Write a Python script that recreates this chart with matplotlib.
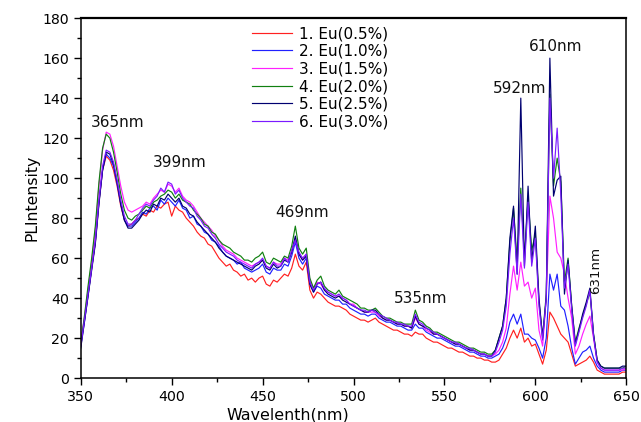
import numpy as np
import matplotlib
matplotlib.use("Agg")
import matplotlib.pyplot as plt
from matplotlib.ticker import MultipleLocator

plt.rcParams['font.family'] = ['DejaVu Sans']

wavelength = np.arange(350, 651, 2)

labels = ["1. Eu(0.5%)", "2. Eu(1.0%)", "3. Eu(1.5%)", "4. Eu(2.0%)", "5. Eu(2.5%)", "6. Eu(3.0%)"]
colors = ["#ff2020", "#2020ff", "#ff20ff", "#108010", "#000070", "#7a1aff"]

eu05 = [17, 29, 42, 55, 68, 88, 104, 111, 109, 104, 96, 86, 79, 76, 77, 79, 80, 82, 81, 84, 83, 86, 85, 87, 88, 81, 86, 84, 83, 80,
        78, 76, 73, 71, 70, 67, 66, 63, 60, 58, 56, 57, 54, 53, 51, 52, 49, 50, 48, 50, 51, 47, 46, 49, 48, 50, 52, 51, 55, 62,
        56, 54, 58, 44, 40, 43, 42, 40, 38, 37, 36, 36, 35, 34, 32, 31, 30, 29, 29, 28, 29, 30, 28, 27, 26, 25, 24, 24, 23, 22,
        22, 21, 23, 22, 22, 20, 19, 18, 18, 17, 16, 15, 15, 14, 13, 13, 12, 11, 11, 10, 10, 9, 9, 8, 8,
        9, 12, 15, 20, 24, 20, 25, 18, 20, 16, 17, 12, 7, 14, 33, 30, 26, 22, 20, 18, 12, 6, 7, 8, 9, 11, 8, 4, 3, 2, 2, 2, 2, 2, 3, 3]
eu10 = [16, 28, 41, 55, 68, 88, 104, 112, 110, 106, 97, 87, 79, 76, 76, 78, 80, 83, 82, 85, 86, 84, 89, 87, 90, 88, 86, 89, 85, 84,
        80, 81, 77, 76, 73, 72, 69, 68, 66, 63, 61, 60, 59, 57, 58, 55, 54, 53, 54, 55, 57, 53, 52, 55, 54, 54, 57, 56, 61, 68,
        60, 57, 60, 47, 43, 46, 45, 42, 41, 40, 39, 39, 37, 37, 35, 34, 33, 32, 32, 31, 32, 32, 30, 29, 28, 28, 27, 26, 26, 25,
        24, 24, 27, 25, 25, 23, 22, 21, 20, 20, 19, 18, 17, 16, 16, 15, 14, 13, 13, 12, 11, 11, 10, 10, 11,
        12, 15, 20, 28, 32, 27, 32, 22, 22, 20, 19, 15, 10, 20, 52, 44, 52, 36, 34, 26, 15, 7, 10, 13, 14, 16, 10, 6, 4, 3, 3, 3, 3, 3, 4, 4]
eu15 = [18, 30, 44, 58, 74, 96, 114, 123, 122, 116, 106, 96, 88, 84, 83, 84, 85, 86, 88, 87, 90, 92, 94, 93, 97, 96, 93, 95, 91, 89,
        88, 86, 83, 80, 78, 76, 74, 71, 69, 66, 64, 63, 62, 60, 59, 58, 57, 56, 57, 58, 59, 56, 55, 58, 57, 57, 60, 59, 63, 70,
        62, 59, 62, 49, 45, 48, 47, 44, 43, 42, 41, 41, 40, 39, 37, 37, 35, 34, 33, 33, 33, 33, 31, 30, 29, 29, 28, 27, 27, 26,
        26, 25, 30, 27, 26, 24, 23, 22, 22, 21, 20, 19, 18, 17, 17, 16, 15, 14, 14, 13, 12, 12, 11, 11, 12,
        14, 18, 25, 42, 56, 44, 58, 46, 48, 40, 45, 24, 16, 40, 91, 80, 63, 60, 52, 40, 30, 12, 16, 22, 27, 31, 20, 8, 5, 4, 4, 4, 4, 4, 4, 5]
eu20 = [17, 31, 46, 60, 76, 98, 115, 122, 120, 113, 103, 92, 84, 80, 79, 81, 82, 84, 86, 85, 88, 89, 91, 92, 94, 93, 90, 92, 89, 88,
        87, 84, 82, 80, 77, 76, 73, 72, 69, 67, 66, 65, 63, 62, 61, 59, 59, 58, 60, 61, 63, 58, 57, 60, 59, 58, 61, 60, 66, 76,
        65, 62, 65, 50, 45, 49, 51, 46, 44, 43, 42, 44, 41, 40, 39, 38, 37, 35, 35, 34, 34, 35, 33, 31, 30, 30, 29, 28, 28, 27,
        27, 27, 34, 29, 28, 26, 25, 23, 23, 22, 21, 20, 19, 18, 18, 17, 16, 15, 15, 14, 13, 13, 12, 12, 14,
        20, 26, 40, 68, 85, 58, 95, 60, 90, 64, 72, 38, 21, 42, 142, 96, 110, 98, 48, 60, 36, 18, 25, 31, 37, 43, 22, 9, 6, 5, 5, 5, 5, 5, 5, 6]
eu25 = [15, 28, 41, 54, 67, 87, 104, 113, 112, 107, 98, 87, 79, 75, 75, 77, 79, 82, 84, 83, 87, 86, 90, 89, 92, 90, 88, 90, 86, 85,
        82, 81, 78, 76, 74, 72, 70, 68, 65, 63, 61, 60, 59, 58, 57, 56, 55, 54, 56, 57, 59, 55, 54, 57, 55, 56, 59, 58, 63, 71,
        62, 59, 61, 47, 43, 47, 48, 44, 42, 41, 40, 41, 39, 38, 37, 36, 35, 34, 33, 33, 34, 34, 32, 30, 29, 29, 28, 27, 27, 26,
        26, 25, 31, 27, 26, 25, 24, 22, 22, 21, 20, 19, 18, 17, 17, 16, 15, 14, 14, 13, 12, 12, 11, 11, 14,
        20, 26, 40, 70, 86, 52, 140, 56, 96, 58, 76, 40, 20, 40, 160, 91, 99, 101, 42, 59, 36, 17, 24, 32, 38, 45, 22, 9, 6, 5, 5, 5, 5, 5, 6, 6]
eu30 = [16, 29, 42, 55, 69, 89, 106, 114, 113, 108, 99, 89, 81, 77, 77, 79, 82, 85, 87, 86, 89, 91, 95, 93, 98, 97, 92, 94, 90, 88,
        86, 85, 81, 79, 76, 75, 72, 70, 67, 65, 63, 62, 61, 59, 58, 57, 56, 55, 57, 58, 60, 56, 55, 58, 56, 56, 60, 58, 64, 69,
        63, 60, 62, 48, 44, 47, 48, 45, 43, 42, 41, 42, 40, 39, 37, 36, 35, 34, 34, 33, 34, 33, 32, 31, 30, 29, 28, 28, 27, 27,
        26, 26, 32, 28, 27, 25, 24, 23, 22, 21, 20, 19, 18, 18, 17, 16, 15, 15, 14, 13, 12, 12, 11, 11, 13,
        18, 24, 36, 62, 80, 52, 92, 55, 88, 56, 70, 36, 19, 40, 140, 100, 125, 92, 45, 57, 34, 16, 23, 30, 36, 44, 21, 8, 5, 4, 4, 4, 4, 4, 5, 5]

series = [eu05, eu10, eu15, eu20, eu25, eu30]

peak_labels = ["365nm", "399nm", "469nm", "535nm", "592nm", "610nm"]
peak_x = [370, 404.5, 471.5, 537, 591.5, 611]
peak_y = [128, 108, 83, 40, 145, 166]
side_label = "631nm"
side_x, side_y = 633, 54

fig = plt.figure(figsize=(6.41, 4.22), dpi=100)
ax = fig.add_axes([0.126, 0.104, 0.851, 0.853])

for vals, lab, col in zip(series, labels, colors):
    assert len(vals) == len(wavelength), (lab, len(vals))
    ax.plot(wavelength, vals, color=col, lw=0.85, label=lab)

for t, x, y in zip(peak_labels, peak_x, peak_y):
    ax.text(x, y, t, fontsize=11, ha='center', va='center', color='#111111')
ax.text(side_x, side_y, side_label, fontsize=9.6, ha='center', va='center', rotation=90, color='#111111')

ax.set_xlim(350, 650)
ax.set_ylim(0, 180)
ax.xaxis.set_major_locator(MultipleLocator(50))
ax.xaxis.set_minor_locator(MultipleLocator(25))
ax.yaxis.set_major_locator(MultipleLocator(20))
ax.yaxis.set_minor_locator(MultipleLocator(10))
ax.tick_params(which='both', direction='out', labelsize=10.2, width=1.0)
ax.tick_params(which='major', length=5)
ax.tick_params(which='minor', length=3)
for s in ax.spines.values():
    s.set_linewidth(1.1)
ax.spines['top'].set_linewidth(1.6)

ax.set_xlabel("Wavelenth(nm)", fontsize=11.4)
ax.xaxis.set_label_coords(0.38, -0.082)
ax.set_ylabel("PLIntensity", fontsize=11.3, labelpad=2)

leg = ax.legend(loc='upper left', bbox_to_anchor=(0.298, 1.003), frameon=False,
                fontsize=11, handlelength=2.6, handletextpad=0.45, labelspacing=0.17,
                borderaxespad=0.2)

fig.savefig("out.png", dpi=100)
